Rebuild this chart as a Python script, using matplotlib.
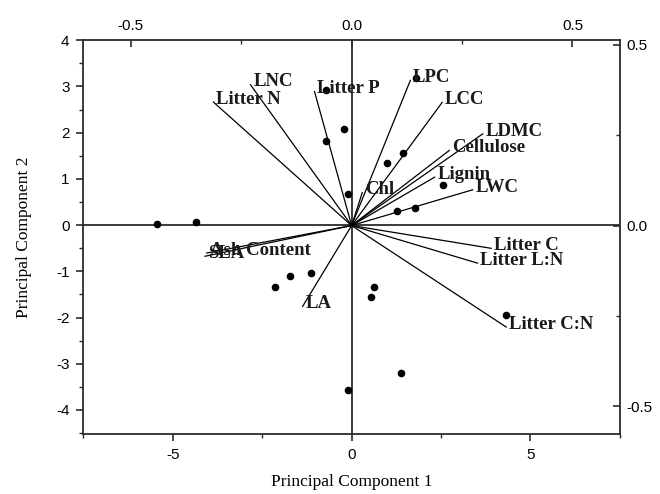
import matplotlib
matplotlib.use("Agg")
import matplotlib.pyplot as plt
from matplotlib.ticker import MultipleLocator, FixedLocator, FormatStrFormatter

plt.rcParams["axes.unicode_minus"] = False

# --- sample scores (PC1, PC2) ---
score_pc1 = [-5.45, -4.35, -2.14, -1.73, -1.14, 0.62, 0.55, -0.10, -0.21, -0.73,
             -0.71, 1.81, 1.43, 1.00, 2.55, 1.27, 1.77, 4.32, 1.37, -0.11]
score_pc2 = [0.03, 0.07, -1.34, -1.11, -1.03, -1.34, -1.56, 0.68, 2.08, 1.82,
             2.92, 3.18, 1.56, 1.35, 0.86, 0.30, 0.36, -1.95, -3.20, -3.56]

# --- variable loadings ---
var_names = ["LPC", "LCC", "LDMC", "Cellulose", "Lignin", "LWC", "Chl",
             "Litter C", "Litter L:N", "Litter C:N", "LA", "Ash Content", "SLA",
             "Litter N", "LNC", "Litter P"]
load_pc1 = [0.133, 0.205, 0.297, 0.221, 0.188, 0.274, 0.024,
            0.316, 0.285, 0.350, -0.111, -0.328, -0.332,
            -0.313, -0.229, -0.084]
load_pc2 = [0.402, 0.341, 0.254, 0.208, 0.134, 0.099, 0.091,
            -0.063, -0.104, -0.281, -0.224, -0.076, -0.085,
            0.342, 0.390, 0.371]

bottom_ticks = [-5, 0, 5]
left_ticks = [-4, -3, -2, -1, 0, 1, 2, 3, 4]
top_ticks = [-0.5, 0.0, 0.5]
right_ticks = [-0.5, 0.0, 0.5]

axis_color = "#2b2b2b"
sans = "Liberation Sans"
serif = "Liberation Serif"

fig = plt.figure(figsize=(6.6, 4.94), dpi=100)
pos = [0.1265, 0.1215, 0.8125, 0.797]
ax = fig.add_axes(pos)

ax.set_xlim(-7.5, 7.5)
ax.set_ylim(-4.52, 4.0)
ax.axhline(0, color=axis_color, lw=1.3, zorder=1)
ax.axvline(0, color=axis_color, lw=1.3, zorder=1)
ax.scatter(score_pc1, score_pc2, s=20, color="black", zorder=4)

ax.xaxis.set_major_locator(FixedLocator(bottom_ticks))
ax.xaxis.set_minor_locator(MultipleLocator(2.5))
ax.yaxis.set_major_locator(FixedLocator(left_ticks))
ax.yaxis.set_minor_locator(MultipleLocator(0.5))
ax.tick_params(axis="both", which="major", direction="out", length=5, width=1.2,
               color=axis_color, labelsize=11, pad=5)
ax.tick_params(axis="both", which="minor", direction="out", length=3, width=1.0,
               color=axis_color)
ax.tick_params(top=False, right=False, which="both")
for lab in ax.get_xticklabels() + ax.get_yticklabels():
    lab.set_fontfamily(sans)
ax.set_xlabel("Principal Component 1", fontfamily=serif, fontsize=12.5, labelpad=9)
ax.set_ylabel("Principal Component 2", fontfamily=serif, fontsize=12.5, labelpad=17)
for sp in ax.spines.values():
    sp.set_color(axis_color)
    sp.set_linewidth(1.3)

# loading axes (top / right)
axl = fig.add_axes(pos)
axl.patch.set_visible(False)
axl.set_xlim(-0.607, 0.607)
axl.set_ylim(-0.577, 0.513)
for sp in axl.spines.values():
    sp.set_visible(False)
axl.xaxis.tick_top()
axl.yaxis.tick_right()
axl.xaxis.set_major_locator(FixedLocator(top_ticks))
axl.xaxis.set_minor_locator(MultipleLocator(0.25))
axl.yaxis.set_major_locator(FixedLocator(right_ticks))
axl.yaxis.set_minor_locator(MultipleLocator(0.25))
axl.xaxis.set_major_formatter(FormatStrFormatter("%.1f"))
axl.yaxis.set_major_formatter(FormatStrFormatter("%.1f"))
axl.tick_params(axis="both", which="major", direction="in", length=5, width=1.2,
                color=axis_color, labelsize=11, pad=5)
axl.tick_params(axis="both", which="minor", direction="in", length=3, width=1.0,
                color=axis_color)
for lab in axl.get_xticklabels() + axl.get_yticklabels():
    lab.set_fontfamily(sans)

for name, lx, ly in zip(var_names, load_pc1, load_pc2):
    axl.plot([0, lx], [0, ly], color="black", lw=0.9, zorder=3)
    axl.annotate(name, (lx, ly), xytext=(2, 2), textcoords="offset points",
                 ha="left", va="center", fontfamily=serif, fontweight="bold",
                 fontsize=13.5, color="#1a1a1a", zorder=5)

fig.savefig("out.png", dpi=100)
